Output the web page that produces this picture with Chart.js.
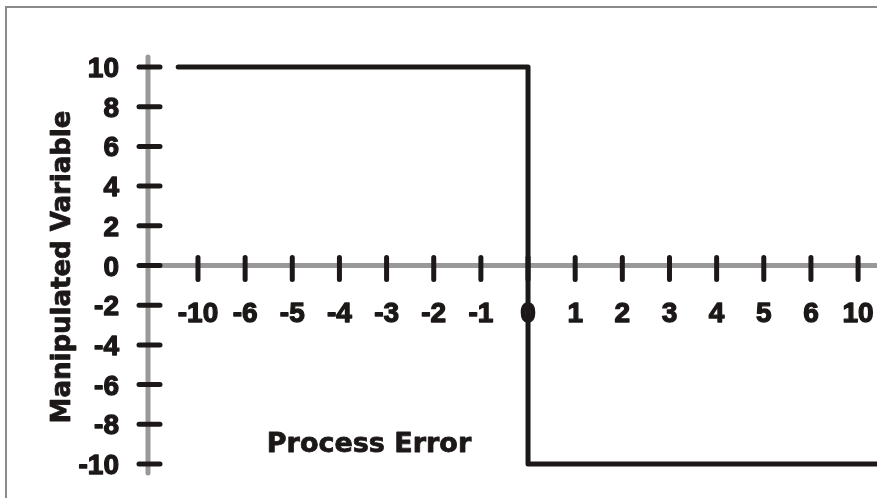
<!DOCTYPE html>
<html>
<head>
<meta charset="utf-8">
<script src="https://cdn.jsdelivr.net/npm/chart.js@4/dist/chart.umd.min.js"></script>
<style>
  html, body { margin: 0; padding: 0; background: #fff; }
  #wrap { width: 877px; height: 498px; }
</style>
</head>
<body>
<div id="wrap"><canvas id="chart" width="877" height="498"></canvas></div>
<script>
// category labels along the horizontal axis (index 0..14)
const xLabels = ['-10', '-6', '-5', '-4', '-3', '-2', '-1', '0', '1', '2', '3', '4', '5', '6', '10'];
const yTicks = [10, 8, 6, 4, 2, 0, -2, -4, -6, -8, -10];

// on/off controller output, x given as position along the category axis
const stepX = [-0.42, 7, 7, 14.4];
const stepY = [10, 10, -10, -10];

const xTitle = 'Process Error';
const yTitle = 'Manipulated Variable';

const ink = '#1c1818';
const axisGray = '#999999';
const tickFont = 'bold 28px "Liberation Sans", Arial, sans-serif';
const xTitleFont = 'bold 27px "DejaVu Sans", sans-serif';
const yTitleFont = 'bold 26px "DejaVu Sans", sans-serif';

// heavier text: fill plus a thin outline in the same colour
function heavyText(ctx, txt, x, y) {
    ctx.fillText(txt, x, y);
    ctx.strokeText(txt, x, y);
}

// frame, axes, tick marks and labels
const axesPlugin = {
    id: 'crossAxes',
    beforeDraw(chart) {
        const ctx = chart.ctx;
        ctx.save();
        ctx.fillStyle = '#ffffff';
        ctx.fillRect(0, 0, chart.width, chart.height);
        ctx.fillStyle = '#8a8a8a';
        ctx.fillRect(5, 6, chart.width - 5, 2);
        ctx.fillRect(5, 6, 2, chart.height - 6);
        ctx.restore();
    },
    beforeDatasetsDraw(chart) {
        const { ctx, chartArea, scales: { x, y } } = chart;
        const x0 = chartArea.left;
        const y0 = y.getPixelForValue(0);
        ctx.save();
        ctx.lineCap = 'round';

        // gray axis lines
        ctx.strokeStyle = axisGray;
        ctx.lineWidth = 5;
        ctx.beginPath();
        ctx.moveTo(x0, chartArea.top + 2);
        ctx.lineTo(x0, chartArea.bottom - 2);
        ctx.moveTo(x0, y0);
        ctx.lineTo(chartArea.right, y0);
        ctx.stroke();

        // black tick marks
        ctx.strokeStyle = ink;
        ctx.lineWidth = 5;
        ctx.beginPath();
        yTicks.forEach(v => {
            const py = y.getPixelForValue(v);
            ctx.moveTo(x0 - 9, py);
            ctx.lineTo(x0 + 12, py);
        });
        xLabels.forEach((lab, i) => {
            const px = x.getPixelForValue(i);
            ctx.moveTo(px, y0 - 8);
            ctx.lineTo(px, y0 + 14);
        });
        ctx.stroke();

        // tick labels
        ctx.fillStyle = ink;
        ctx.strokeStyle = ink;
        ctx.lineWidth = 1.3;
        ctx.lineJoin = 'round';
        ctx.font = tickFont;
        ctx.textBaseline = 'alphabetic';
        ctx.textAlign = 'right';
        yTicks.forEach(v => {
            heavyText(ctx, String(v), x0 - 29, y.getPixelForValue(v) + 10);
        });
        ctx.textAlign = 'center';
        xLabels.forEach((lab, i) => {
            heavyText(ctx, lab, x.getPixelForValue(i), y0 + 56);
        });

        // axis titles
        ctx.lineWidth = 0.8;
        ctx.font = xTitleFont;
        ctx.textBaseline = 'middle';
        heavyText(ctx, xTitle, 369, 445);
        ctx.font = yTitleFont;
        ctx.translate(63, (chartArea.top + chartArea.bottom) / 2 + 2);
        ctx.rotate(-Math.PI / 2);
        heavyText(ctx, yTitle, 0, 0);
        ctx.restore();
    }
};

new Chart(document.getElementById('chart'), {
    type: 'scatter',
    data: {
        datasets: [{
            label: 'Controller output',
            data: stepX.map((v, i) => ({ x: v, y: stepY[i] })),
            showLine: true,
            borderColor: ink,
            borderWidth: 5,
            borderCapStyle: 'round',
            borderJoinStyle: 'round',
            pointRadius: 0,
            tension: 0,
            clip: false
        }]
    },
    options: {
        responsive: false,
        animation: false,
        devicePixelRatio: 1,
        layout: { padding: { left: 148, top: 55, right: 1, bottom: 23 } },
        plugins: { legend: { display: false }, tooltip: { enabled: false } },
        scales: {
            x: { type: 'linear', display: false, min: -1.06, max: 14.38 },
            y: { type: 'linear', display: false, min: -10.554, max: 10.605 }
        }
    },
    plugins: [axesPlugin]
});
</script>
</body>
</html>
